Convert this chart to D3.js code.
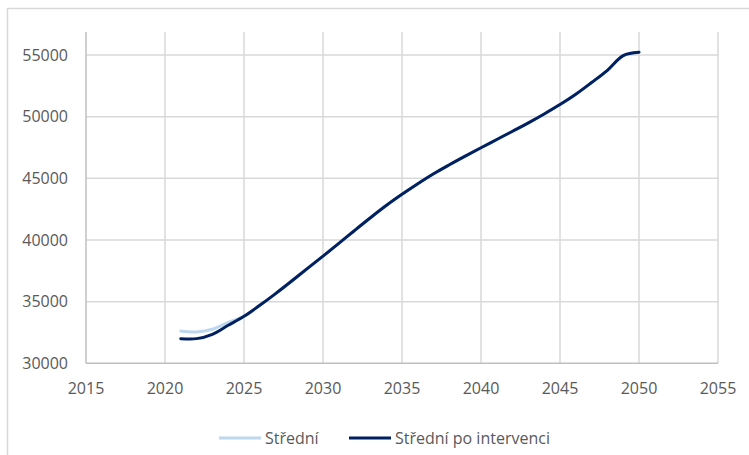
<!DOCTYPE html>
<html>
<head>
<meta charset="utf-8">
<script src="https://cdn.jsdelivr.net/npm/d3@7"></script>
<style>
    body { margin: 0; background: #fff; }
    text { font-family: "Open Sans", sans-serif; font-size: 16px; fill: #595959; }
</style>
</head>
<body>
<svg id="chart" width="749" height="455"></svg>
<script>
// years 2021 - 2050
var years = d3.range(2021, 2051);
var stredni = [32620, 32540, 32760, 33320, 33810, 34700, 35650, 36650, 37680, 38690,
    39720, 40770, 41800, 42790, 43700, 44560, 45370, 46100, 46800, 47480,
    48150, 48820, 49500, 50220, 50980, 51820, 52770, 53760, 54950, 55220];
var poIntervenci = [32000, 32000, 32350, 33080, 33810, 34700, 35650, 36650, 37680, 38690,
    39720, 40770, 41800, 42790, 43700, 44560, 45370, 46100, 46800, 47480,
    48150, 48820, 49500, 50220, 50980, 51820, 52770, 53760, 54950, 55220];
var xTicks = [2015, 2020, 2025, 2030, 2035, 2040, 2045, 2050, 2055];
var yTicks = [30000, 35000, 40000, 45000, 50000, 55000];
var seriesNames = ["Střední", "Střední po intervenci"];
var colors = ["#bdd7ee", "#002060"];

var svg = d3.select("#chart");

// outer chart frame (cropped at right / bottom)
svg.append("rect")
    .attr("x", 7.5).attr("y", 8.5)
    .attr("width", 760).attr("height", 460)
    .attr("fill", "none").attr("stroke", "#d9d9d9").attr("stroke-width", 1.5);

var plotTop = 32;
var xScale = d3.scaleLinear().domain([2015, 2055]).range([86, 718]);
var yScale = d3.scaleLinear().domain([30000, 55000]).range([363.3, 55]);

// gridlines
svg.append("g").selectAll("line.h")
    .data(yTicks.slice(1))
    .enter().append("line")
    .attr("x1", 86).attr("x2", 718)
    .attr("y1", d => yScale(d)).attr("y2", d => yScale(d))
    .attr("stroke", "#d9d9d9").attr("stroke-width", 1.5);

svg.append("g").selectAll("line.v")
    .data(xTicks.slice(1))
    .enter().append("line")
    .attr("x1", d => xScale(d)).attr("x2", d => xScale(d))
    .attr("y1", plotTop).attr("y2", yScale(30000))
    .attr("stroke", "#d9d9d9").attr("stroke-width", 1.5);

// axes lines
svg.append("line")
    .attr("x1", 86).attr("x2", 86).attr("y1", plotTop).attr("y2", yScale(30000))
    .attr("stroke", "#bfbfbf").attr("stroke-width", 1.5);
svg.append("line")
    .attr("x1", 86).attr("x2", 718).attr("y1", yScale(30000)).attr("y2", yScale(30000))
    .attr("stroke", "#bfbfbf").attr("stroke-width", 1.5);

// tick labels
svg.append("g").selectAll("text")
    .data(yTicks)
    .enter().append("text")
    .attr("x", 68)
    .attr("y", d => yScale(d))
    .attr("dy", "0.36em")
    .attr("text-anchor", "end")
    .text(d => d);

svg.append("g").selectAll("text")
    .data(xTicks)
    .enter().append("text")
    .attr("x", d => xScale(d))
    .attr("y", 394)
    .attr("text-anchor", "middle")
    .text(d => d);

// lines
var line = d3.line()
    .x((d, i) => xScale(years[i]))
    .y(d => yScale(d))
    .curve(d3.curveCatmullRom.alpha(0.5));

[stredni, poIntervenci].forEach((s, i) => {
    svg.append("path")
        .attr("d", line(s))
        .attr("fill", "none")
        .attr("stroke", colors[i])
        .attr("stroke-width", 3)
        .attr("stroke-linecap", "round");
});

// legend
var legendX = [219, 349];
seriesNames.forEach((name, i) => {
    svg.append("line")
        .attr("x1", legendX[i]).attr("x2", legendX[i] + 42)
        .attr("y1", 438).attr("y2", 438)
        .attr("stroke", colors[i]).attr("stroke-width", 3);
    svg.append("text")
        .attr("x", legendX[i] + 46)
        .attr("y", 444)
        .text(name);
});
</script>
</body>
</html>
